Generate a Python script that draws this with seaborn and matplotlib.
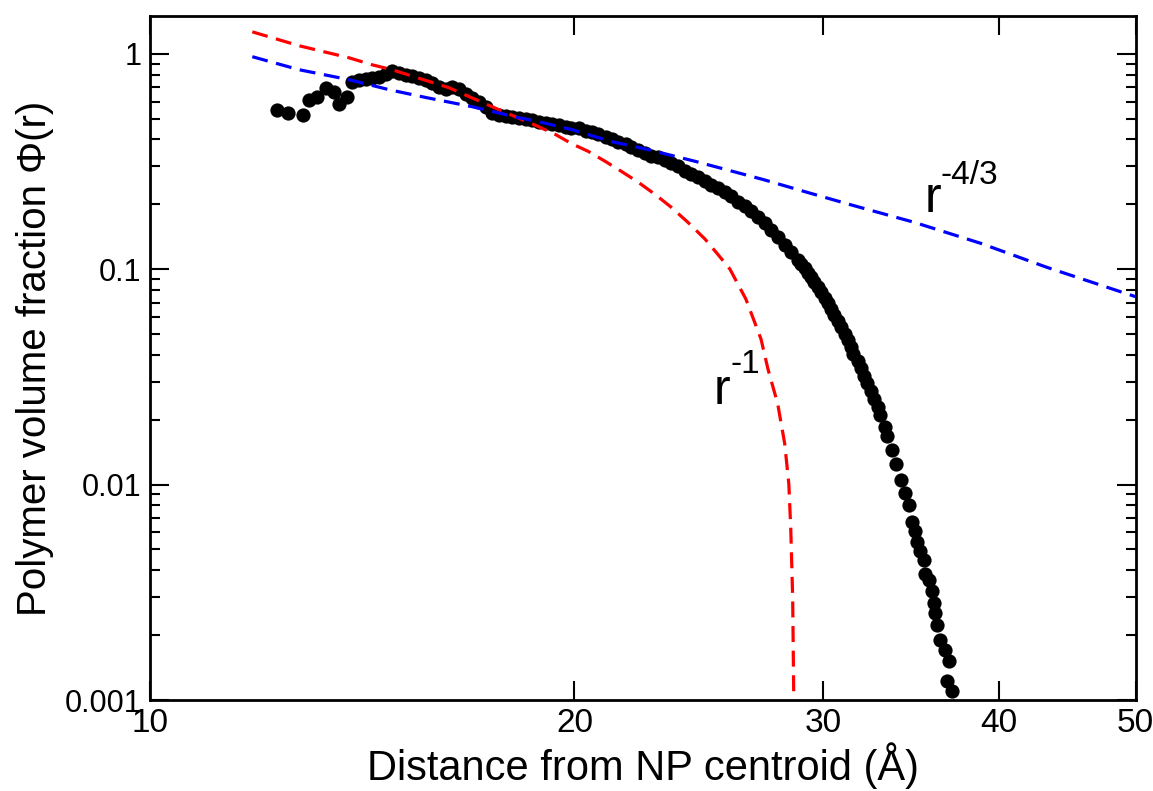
import matplotlib
matplotlib.use("Agg")
import matplotlib.pyplot as plt
import numpy as np
import pandas as pd
import seaborn as sns
from matplotlib import ticker

# measured profile (r in Angstrom, volume fraction)
r_data = [12.31, 12.52, 12.83, 12.97, 13.14, 13.34, 13.51, 13.62, 13.80, 13.91,
          14.07, 14.23, 14.37, 14.54, 14.71, 14.85, 15.02, 15.19, 15.34, 15.52,
          15.70, 15.85, 16.03, 16.22, 16.38, 16.56, 16.75, 16.92, 17.11, 17.31,
          17.48, 17.68, 17.88, 18.05, 18.26, 18.47, 18.65, 18.86, 19.08, 19.27,
          19.49, 19.71, 19.90, 20.14, 20.37, 20.57, 20.80, 21.04, 21.25, 21.49,
          21.74, 21.95, 22.20, 22.45, 22.68, 22.93, 23.20, 23.42, 23.69, 23.96,
          24.19, 24.47, 24.75, 25.00, 25.28, 25.57, 25.82, 26.12, 26.42, 26.68,
          26.98, 27.29, 27.56, 27.87, 28.19, 28.47, 28.80, 28.93, 29.12, 29.27,
          29.41, 29.56, 29.75, 29.90, 30.09, 30.24, 30.39, 30.54, 30.73, 30.89,
          31.09, 31.24, 31.39, 31.54, 31.75, 31.91, 32.11, 32.27, 32.43, 32.59,
          32.81, 32.96, 33.18, 33.34, 33.56, 33.83, 34.11, 34.33, 34.56, 34.72,
          34.89, 35.01, 35.18, 35.41, 35.46, 35.70, 35.87, 35.99, 36.05, 36.16,
          36.34, 36.64, 36.88, 36.76, 37.06]
phi_data = [0.550, 0.533, 0.522, 0.612, 0.632, 0.696, 0.667, 0.587, 0.632, 0.742,
            0.758, 0.766, 0.774, 0.782, 0.808, 0.834, 0.817, 0.799, 0.791, 0.774,
            0.758, 0.734, 0.703, 0.689, 0.703, 0.689, 0.653, 0.626, 0.600, 0.568,
            0.533, 0.522, 0.516, 0.511, 0.505, 0.500, 0.490, 0.484, 0.479, 0.474,
            0.469, 0.459, 0.454, 0.450, 0.440, 0.431, 0.422, 0.409, 0.400, 0.391,
            0.383, 0.371, 0.359, 0.348, 0.337, 0.330, 0.320, 0.310, 0.300, 0.287,
            0.278, 0.269, 0.258, 0.247, 0.237, 0.227, 0.218, 0.206, 0.196, 0.186,
            0.174, 0.163, 0.152, 0.141, 0.129, 0.120, 0.110, 0.1054, 0.101, 0.0958,
            0.0918, 0.0871, 0.0825, 0.0782, 0.0734, 0.0696, 0.0653, 0.0612, 0.0574, 0.0539,
            0.0500, 0.0469, 0.0435, 0.0404, 0.0375, 0.0348, 0.0320, 0.0297, 0.0272, 0.0250,
            0.0230, 0.0211, 0.0186, 0.0169, 0.0144, 0.0124, 0.0105, 0.00918, 0.00808, 0.00674,
            0.00606, 0.00539, 0.00490, 0.00445, 0.00383, 0.00359, 0.00320, 0.00281, 0.00253, 0.00222,
            0.00190, 0.00170, 0.00152, 0.00122, 0.00110]

# r^-1 guide (red dashed)
r_red = [11.82, 12.76, 13.84, 14.37, 14.85, 16.29, 17.68, 18.86, 19.39, 19.90,
         20.46, 21.04, 21.60, 22.20, 22.82, 23.42, 24.07, 24.75, 25.28, 25.78,
         26.46, 27.12, 27.43, 27.87, 28.19, 28.38, 28.47, 28.56, 28.61]
phi_red = [1.264, 1.089, 0.958, 0.889, 0.843, 0.696, 0.550, 0.459, 0.422, 0.383,
           0.352, 0.316, 0.284, 0.253, 0.222, 0.194, 0.165, 0.138, 0.117, 0.100,
           0.0726, 0.0474, 0.0344, 0.0237, 0.0155, 0.0101, 0.00626, 0.00297, 0.00102]

# r^-4/3 guide (blue dashed)
r_blue = [11.82, 12.76, 13.84, 14.78, 15.70, 16.92, 18.26, 18.86, 19.90, 21.25,
          22.56, 24.39, 27.20, 29.27, 31.49, 34.83, 38.80, 43.25, 50.0]
phi_blue = [0.969, 0.843, 0.758, 0.681, 0.626, 0.568, 0.505, 0.484, 0.445, 0.391,
            0.359, 0.316, 0.261, 0.227, 0.198, 0.165, 0.132, 0.102, 0.0745]

x_ticks = [10, 20, 30, 40, 50]
y_ticks = [0.001, 0.01, 0.1, 1]
y_ticklabels = ["0.001", "0.01", "0.1", "1"]

sns.set_theme(style="white")
plt.rcParams["font.family"] = ["Liberation Sans", "DejaVu Sans"]
plt.rcParams["text.color"] = "black"
plt.rcParams["axes.labelcolor"] = "black"
plt.rcParams["xtick.color"] = "black"
plt.rcParams["ytick.color"] = "black"

fig = plt.figure(figsize=(11.53, 7.91), dpi=100)
ax = fig.add_axes([0.130, 0.115, 0.855, 0.865])

df = pd.DataFrame({"r": r_data, "phi": phi_data})
sns.scatterplot(data=df, x="r", y="phi", color="black", s=105, linewidth=0,
                ax=ax, zorder=2)

sns.lineplot(x=r_red, y=phi_red, color="#ff0000", lw=2.3, sort=False,
             estimator=None, linestyle=(0, (5, 2.7)), ax=ax, zorder=3)
sns.lineplot(x=r_blue, y=phi_blue, color="#0000ff", lw=2.3, sort=False,
             estimator=None, linestyle=(0, (5, 2.7)), ax=ax, zorder=3)

ax.set_xscale("log")
ax.set_yscale("log")
ax.set_xlim(10, 50)
ax.set_ylim(0.001, 1.5)

ax.xaxis.set_major_locator(ticker.FixedLocator(x_ticks))
ax.xaxis.set_major_formatter(ticker.FixedFormatter([str(t) for t in x_ticks]))
ax.xaxis.set_minor_locator(ticker.NullLocator())
ax.yaxis.set_major_locator(ticker.FixedLocator(y_ticks))
ax.yaxis.set_major_formatter(ticker.FixedFormatter(y_ticklabels))
ax.yaxis.set_minor_locator(ticker.LogLocator(base=10, subs=np.arange(2, 10)))
ax.yaxis.set_minor_formatter(ticker.NullFormatter())

ax.tick_params(which="both", direction="in", bottom=True, left=True,
               top=True, right=True, color="black", width=1.5)
ax.tick_params(which="major", length=14)
ax.tick_params(which="minor", length=7)
ax.tick_params(axis="x", labelsize=24, pad=6)
ax.tick_params(axis="y", labelsize=22, pad=6)

for sp in ax.spines.values():
    sp.set_linewidth(2.0)
    sp.set_color("black")

ax.set_xlabel("Distance from NP centroid (Å)", fontsize=30, labelpad=2)
ax.set_ylabel("Polymer volume fraction Φ(r)", fontsize=29, labelpad=8)

# power-law labels
ax.text(25.1, 0.0237, "r", fontsize=36, ha="left", va="baseline")
ax.annotate("-1", xy=(25.1, 0.0237), xytext=(12, 22), textcoords="offset points",
            fontsize=24, ha="left", va="baseline")
ax.text(35.4, 0.184, "r", fontsize=36, ha="left", va="baseline")
ax.annotate("-4/3", xy=(35.4, 0.184), xytext=(12, 20), textcoords="offset points",
            fontsize=24, ha="left", va="baseline")

fig.savefig("out.png", dpi=100)
